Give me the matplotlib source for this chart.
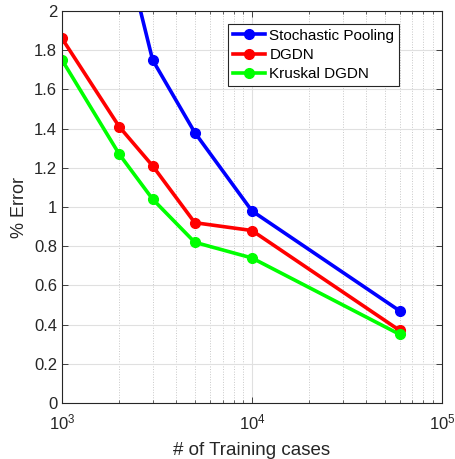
import numpy as np
import matplotlib
matplotlib.use("Agg")
import matplotlib.pyplot as plt
from matplotlib.ticker import LogLocator, NullFormatter, MultipleLocator, FuncFormatter

plt.rcParams["font.family"] = ["Liberation Sans", "DejaVu Sans"]
plt.rcParams["mathtext.fontset"] = "custom"
plt.rcParams["mathtext.rm"] = "Liberation Sans"

# Data
train_sp = [2000, 3000, 5000, 10000, 60000]
err_sp = [2.44, 1.75, 1.38, 0.98, 0.47]
train_dgdn = [1000, 2000, 3000, 5000, 10000, 60000]
err_dgdn = [1.86, 1.41, 1.21, 0.92, 0.88, 0.37]
err_kruskal = [1.75, 1.27, 1.04, 0.82, 0.74, 0.35]

fig = plt.figure(figsize=(4.56, 4.59), dpi=100)
ax = fig.add_axes([0.136, 0.122, 0.833, 0.854])

ax.plot(train_sp, err_sp, "-o", color="#0000ff", lw=2.6, ms=7, label="Stochastic Pooling")
ax.plot(train_dgdn, err_dgdn, "-o", color="#ff0000", lw=2.6, ms=7, label="DGDN")
ax.plot(train_dgdn, err_kruskal, "-o", color="#00ff00", lw=2.6, ms=7, label="Kruskal DGDN")

ax.set_xscale("log")
ax.set_xlim(1e3, 1e5)
ax.set_ylim(0, 2)
ax.yaxis.set_major_locator(MultipleLocator(0.2))
ax.yaxis.set_major_formatter(FuncFormatter(lambda v, p: "%g" % round(v, 2)))
ax.xaxis.set_minor_locator(LogLocator(base=10, subs=np.arange(2, 10)))
ax.xaxis.set_minor_formatter(NullFormatter())

ax.grid(True, which="major", color="#e0e0e0", lw=0.8, ls="-")
ax.grid(True, which="minor", axis="x", color="#c8c8c8", lw=0.7, ls=":")
ax.set_axisbelow(True)

ax.tick_params(which="both", direction="in", top=True, right=True, labelsize=12, colors="#262626")
ax.tick_params(which="major", length=4, width=0.6)
ax.tick_params(which="minor", length=2.5, width=0.5)
ax.tick_params(axis="x", pad=7)
for s in ax.spines.values():
    s.set_color("#262626")
    s.set_linewidth(0.8)

ax.set_xlabel("# of Training cases", fontsize=13.5, color="#262626", labelpad=7)
ax.set_ylabel("% Error", fontsize=13, color="#262626")

leg = ax.legend(loc="upper right", bbox_to_anchor=(0.887, 0.967), borderaxespad=0,
                fontsize=11, fancybox=False, edgecolor="#262626", framealpha=1,
                handlelength=2.1, borderpad=0.3, labelspacing=0.35, handletextpad=0.3)
leg.get_frame().set_linewidth(0.8)

fig.savefig("out.png", dpi=100)
